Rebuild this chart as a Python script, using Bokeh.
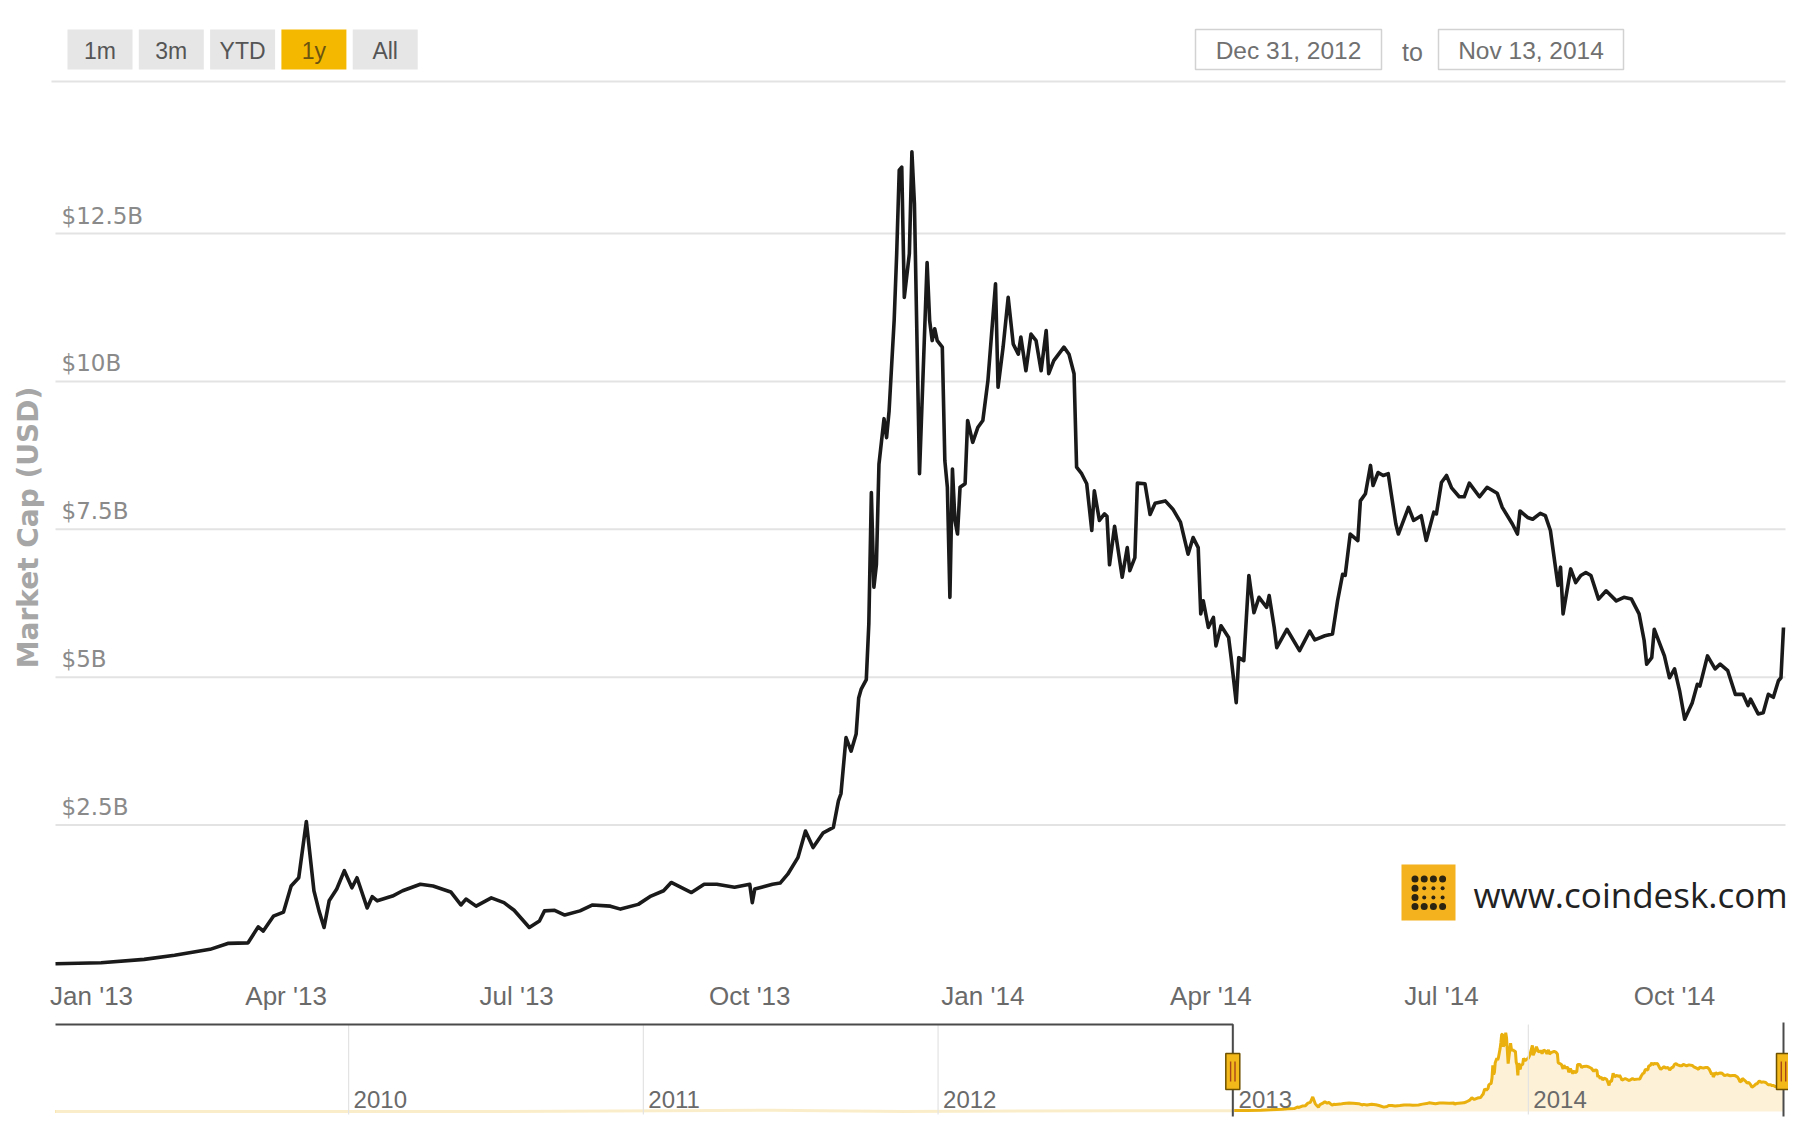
import math
import numpy as np
import pandas as pd
from bokeh.plotting import figure
from bokeh.models import Range1d
from bokeh.core.properties import value
from bokeh.embed import file_html
from bokeh.resources import INLINE

# ---------------- data ----------------
dates = [
"2012-12-31","2013-01-18","2013-02-04","2013-02-16","2013-03-02","2013-03-09","2013-03-17","2013-03-21","2013-03-23","2013-03-27","2013-03-31",
"2013-04-03","2013-04-06","2013-04-09","2013-04-12","2013-04-14","2013-04-16","2013-04-18","2013-04-21","2013-04-24","2013-04-27","2013-04-29",
"2013-05-03","2013-05-05","2013-05-07","2013-05-13","2013-05-17","2013-05-24","2013-05-29",
"2013-06-05","2013-06-09","2013-06-11","2013-06-15","2013-06-21","2013-06-26","2013-06-30",
"2013-07-06","2013-07-10","2013-07-12","2013-07-16","2013-07-20","2013-07-26","2013-07-31",
"2013-08-07","2013-08-11","2013-08-18","2013-08-23","2013-08-28","2013-08-31",
"2013-09-08","2013-09-13","2013-09-18","2013-09-25",
"2013-10-01","2013-10-02","2013-10-03","2013-10-10","2013-10-13","2013-10-16","2013-10-20","2013-10-23","2013-10-26","2013-10-30",
"2013-11-03","2013-11-05","2013-11-06","2013-11-08","2013-11-10","2013-11-12","2013-11-13","2013-11-14","2013-11-16","2013-11-17","2013-11-18",
"2013-11-19","2013-11-20","2013-11-21","2013-11-23","2013-11-24","2013-11-25","2013-11-27","2013-11-28","2013-11-29","2013-11-30",
"2013-12-01","2013-12-03","2013-12-04","2013-12-05","2013-12-07","2013-12-10","2013-12-11","2013-12-12","2013-12-13","2013-12-14","2013-12-16",
"2013-12-17","2013-12-18","2013-12-19","2013-12-20","2013-12-21","2013-12-22","2013-12-23","2013-12-25","2013-12-26","2013-12-28","2013-12-30",
"2014-01-01","2014-01-03","2014-01-06","2014-01-07","2014-01-09","2014-01-11","2014-01-13","2014-01-15","2014-01-16","2014-01-18","2014-01-20",
"2014-01-22","2014-01-24","2014-01-26","2014-01-27","2014-01-29",
"2014-02-02","2014-02-04","2014-02-06","2014-02-07","2014-02-09","2014-02-11","2014-02-13","2014-02-14","2014-02-16","2014-02-18","2014-02-19",
"2014-02-20","2014-02-22","2014-02-25","2014-02-27","2014-02-28",
"2014-03-02","2014-03-03","2014-03-06","2014-03-08","2014-03-10","2014-03-14","2014-03-17","2014-03-20","2014-03-23","2014-03-25","2014-03-27",
"2014-03-28","2014-03-29","2014-03-31",
"2014-04-02","2014-04-03","2014-04-05","2014-04-08","2014-04-09","2014-04-11","2014-04-12","2014-04-14","2014-04-16","2014-04-18","2014-04-20",
"2014-04-23","2014-04-24","2014-04-26","2014-04-27",
"2014-05-01","2014-05-06","2014-05-10","2014-05-12","2014-05-16","2014-05-19","2014-05-21","2014-05-23","2014-05-24","2014-05-26","2014-05-29","2014-05-30",
"2014-06-01","2014-06-03","2014-06-04","2014-06-06","2014-06-08","2014-06-10","2014-06-11","2014-06-13","2014-06-14","2014-06-18","2014-06-20",
"2014-06-23","2014-06-25","2014-06-28","2014-06-29",
"2014-07-01","2014-07-03","2014-07-05","2014-07-08","2014-07-10","2014-07-12","2014-07-16","2014-07-19","2014-07-23","2014-07-25","2014-07-29","2014-07-31",
"2014-08-01","2014-08-04","2014-08-06","2014-08-09","2014-08-11","2014-08-13","2014-08-15","2014-08-16","2014-08-17","2014-08-18","2014-08-21",
"2014-08-23","2014-08-25","2014-08-27","2014-08-29",
"2014-09-01","2014-09-04","2014-09-08","2014-09-11","2014-09-14","2014-09-17","2014-09-19","2014-09-20","2014-09-22","2014-09-23","2014-09-27","2014-09-29",
"2014-10-01","2014-10-03","2014-10-05","2014-10-08","2014-10-10","2014-10-11","2014-10-14","2014-10-17","2014-10-19","2014-10-22","2014-10-25",
"2014-10-28","2014-10-30","2014-10-31",
"2014-11-03","2014-11-05","2014-11-07","2014-11-09","2014-11-11","2014-11-12","2014-11-13",
]
cap_bn = [
0.157,0.174,0.23,0.30,0.40,0.50,0.51,0.78,0.71,0.96,1.03,
1.47,1.61,2.56,1.39,1.05,0.77,1.22,1.42,1.73,1.44,1.61,
1.10,1.29,1.22,1.30,1.39,1.50,1.47,
1.37,1.15,1.25,1.13,1.27,1.19,1.06,
0.77,0.88,1.05,1.06,0.98,1.05,1.15,
1.13,1.08,1.16,1.30,1.39,1.53,
1.36,1.50,1.50,1.45,
1.50,1.19,1.42,1.50,1.52,1.67,1.95,2.40,2.12,2.37,
2.46,2.91,3.03,3.98,3.75,4.04,4.65,4.80,4.96,5.90,8.12,
6.52,6.91,8.60,9.37,9.05,9.50,11.03,12.16,13.57,13.62,
11.42,12.16,13.88,13.00,8.44,12.01,11.03,10.69,10.89,10.69,10.58,
8.66,8.21,6.35,8.52,7.65,7.42,8.21,8.27,9.34,8.97,9.22,
9.34,10.01,11.65,9.90,10.58,11.42,10.63,10.46,10.75,10.18,10.80,
10.69,10.18,10.86,10.13,10.35,
10.58,10.46,10.13,8.55,8.44,8.27,7.48,8.15,7.65,7.76,7.72,
6.90,7.55,6.69,7.19,6.80,
7.02,8.28,8.27,7.75,7.94,7.98,7.84,7.62,7.08,7.36,7.19,
6.07,6.29,5.84,
6.01,5.53,5.87,5.67,5.33,4.57,5.33,5.28,6.72,6.09,6.35,
6.18,6.38,5.84,5.50,
5.81,5.45,5.78,5.63,5.70,5.73,6.29,6.74,6.72,7.42,7.31,7.98,
8.10,8.58,8.24,8.46,8.41,8.44,8.15,7.59,7.42,7.87,7.65,
7.73,7.31,7.79,7.76,
8.29,8.41,8.20,8.05,8.05,8.28,8.05,8.21,8.11,7.87,7.59,7.42,
7.81,7.70,7.67,7.77,7.73,7.48,6.86,6.55,6.86,6.07,6.83,
6.60,6.72,6.77,6.72,
6.32,6.46,6.29,6.35,6.32,6.07,5.62,5.22,5.33,5.81,5.36,4.99,
5.14,4.77,4.29,4.57,4.88,4.85,5.36,5.14,5.22,5.11,4.71,
4.71,4.52,4.63,
4.38,4.40,4.71,4.66,4.94,4.99,5.84,
]
assert len(dates) == len(cap_bn), (len(dates), len(cap_bn))

# earlier history only visible in the navigator (near zero at this scale)
hist_dates = ["2009-01-03", "2010-07-17", "2011-06-08", "2011-11-18", "2012-08-16", "2012-12-30"]
hist_cap_bn = [0.0, 0.0003, 0.21, 0.02, 0.13, 0.15]

y_ticks = [2.5, 5.0, 7.5, 10.0, 12.5]
y_tick_labels = ["$2.5B", "$5B", "$7.5B", "$10B", "$12.5B"]
x_ticks = ["2013-01-01", "2013-04-01", "2013-07-01", "2013-10-01",
           "2014-01-01", "2014-04-01", "2014-07-01", "2014-10-01"]
x_tick_labels = ["Jan '13", "Apr '13", "Jul '13", "Oct '13",
                 "Jan '14", "Apr '14", "Jul '14", "Oct '14"]
nav_ticks = ["2010-01-01", "2011-01-01", "2012-01-01", "2013-01-01", "2014-01-01"]
nav_tick_labels = ["2010", "2011", "2012", "2013", "2014"]
buttons = ["1m", "3m", "YTD", "1y", "All"]
selected_button = "1y"
range_from = "Dec 31, 2012"
range_to = "Nov 13, 2014"
y_title = "Market Cap (USD)"
brand = "www.coindesk.com"

# ---------------- layout (canvas pixels) ----------------
W, H = 1788, 1130
PL, PR = 55, 1783          # plot left / right
Y0, PPU = 972.5, 59.16     # pixel of $0 and pixels per $1B (main)
TOP_LINE = 81
NAV_Y0, NAV_PPU = 1111.0, 5.68
NAV_TOP, NAV_BOT = 1024, 1114


def to_ms(seq):
    return pd.to_datetime(pd.Series(seq)).values.astype("datetime64[ms]").astype("int64")


x_ms = to_ms(dates)
hist_ms = to_ms(hist_dates)
t0, t1 = float(x_ms[0]), float(x_ms[-1])
mpp = (t1 - t0) / (PR - PL)
n0 = float(hist_ms[0])
nmpp = (t1 - n0) / (PR - PL)

p = figure(width=W, height=H,
           x_range=Range1d(t0 - PL * mpp, t0 + (W - PL) * mpp),
           y_range=Range1d(-(H - Y0) / PPU, Y0 / PPU),
           x_axis_location=None, y_axis_location=None,
           toolbar_location=None, output_backend="svg",
           min_border=0, outline_line_color=None, background_fill_color="white")
p.grid.visible = False
p.extra_x_ranges = {"nav": Range1d(n0 - PL * nmpp, n0 + (W - PL) * nmpp),
                    "px": Range1d(0, W)}
p.extra_y_ranges = {"nav": Range1d(-(H - NAV_Y0) / NAV_PPU, NAV_Y0 / NAV_PPU),
                    "px": Range1d(H, 0)}

GRID = "#e3e3e3"
LBL = "#8a8a8a"
AX = "#6a6a6a"

# ---- top separator & main gridlines & y labels ----
p.segment(x0=[PL - 4], x1=[PR + 2], y0=[TOP_LINE], y1=[TOP_LINE], x_range_name="px",
          y_range_name="px", line_color=GRID, line_width=2)
p.segment(x0=[PL] * len(y_ticks), x1=[PR + 2] * len(y_ticks), y0=y_ticks, y1=y_ticks,
          x_range_name="px", line_color=GRID, line_width=2)
p.text(x=[PL + 6] * len(y_ticks), y=y_ticks, text=y_tick_labels, x_range_name="px",
       text_font=value("DejaVu Sans"), text_font_size="23px", text_color=LBL,
       text_align="left", text_baseline="bottom", y_offset=-5)

# ---- y axis title ----
p.text(x=[28], y=[527], text=[y_title], x_range_name="px", y_range_name="px",
       angle=math.pi / 2, text_font=value("DejaVu Sans"), text_font_style="bold",
       text_font_size="28px", text_color="#a6a6a6", text_align="center",
       text_baseline="middle")

# ---- main series ----
p.line(x=x_ms, y=cap_bn, line_color="#1a1a1a", line_width=3.6, line_join="round")

# ---- x tick labels ----
xt = to_ms(x_ticks)
p.text(x=xt[1:], y=[995] * (len(xt) - 1), text=x_tick_labels[1:], y_range_name="px",
       text_font=value("Liberation Sans"), text_font_size="26px", text_color=AX,
       text_align="center", text_baseline="middle")
p.text(x=xt[:1], y=[995], text=x_tick_labels[:1], y_range_name="px", x_offset=-8,
       text_font=value("Liberation Sans"), text_font_size="26px", text_color=AX,
       text_align="left", text_baseline="middle")

# ---- navigator ----
nav_x = np.concatenate([hist_ms, x_ms])
nav_y = list(hist_cap_bn) + list(cap_bn)
nt = to_ms(nav_ticks)
h_left, h_right = t0, t1
p.varea(x=nav_x, y1=np.zeros(len(nav_x)), y2=nav_y, x_range_name="nav", y_range_name="nav",
        fill_color="#fdf0d4", fill_alpha=0.9)
p.line(x=nav_x, y=nav_y, x_range_name="nav", y_range_name="nav",
       line_color="#e9b00e", line_width=3)
# faded (unselected) part of the navigator
p.quad(left=[n0], right=[h_left], top=[NAV_TOP], bottom=[NAV_BOT], x_range_name="nav",
       y_range_name="px", fill_color="white", fill_alpha=0.78, line_color=None)
p.segment(x0=nt, x1=nt, y0=[NAV_TOP] * len(nt), y1=[NAV_BOT] * len(nt),
          x_range_name="nav", y_range_name="px", line_color="#e3e3e3", line_width=1.2)
p.text(x=nt, y=[1099] * len(nt), text=nav_tick_labels, x_range_name="nav", y_range_name="px",
       x_offset=5, text_font=value("Liberation Sans"), text_font_size="24px",
       text_color=AX, text_align="left", text_baseline="middle")

# outline: top line up to left handle, verticals at the handles
p.line(x=[n0, h_left, h_left], y=[NAV_TOP, NAV_TOP, NAV_BOT + 2], x_range_name="nav",
       y_range_name="px", line_color="#4a4a4a", line_width=2)
p.segment(x0=[h_right], x1=[h_right], y0=[NAV_TOP - 2], y1=[NAV_BOT + 2], x_range_name="nav",
          y_range_name="px", line_color="#4a4a4a", line_width=2)
hx = [h_left, h_right]
p.rect(x=hx, y=[1071, 1071], width=14, height=36, width_units="screen",
       height_units="screen", x_range_name="nav", y_range_name="px",
       fill_color="#f3b81a", line_color="#6e5200", line_width=1.5)
for dx in (-2.2, 2.2):
    xs = [h + dx * nmpp for h in hx]
    p.segment(x0=xs, x1=xs, y0=[1061, 1061], y1=[1081, 1081], x_range_name="nav",
              y_range_name="px", line_color="#a8461a", line_width=1.4)

# ---- range selector buttons ----
bx = [67 + 71.3 * i for i in range(len(buttons))]
p.quad(left=bx, right=[b + 65 for b in bx], top=[29] * len(bx), bottom=[69] * len(bx),
       x_range_name="px", y_range_name="px",
       fill_color=["#f5b800" if b == selected_button else "#e6e6e6" for b in buttons],
       line_color=None)
p.text(x=[b + 32.5 for b in bx], y=[50] * len(bx), text=buttons, x_range_name="px",
       y_range_name="px", text_font=value("Liberation Sans"), text_font_size="23px",
       text_color=["#6b5410" if b == selected_button else "#555555" for b in buttons],
       text_align="center", text_baseline="middle")

# ---- date range inputs ----
p.quad(left=[1195, 1438], right=[1381, 1623], top=[29, 29], bottom=[69, 69],
       x_range_name="px", y_range_name="px", fill_color="white",
       line_color="#d2d2d2", line_width=1.5)
p.text(x=[1288, 1530.5], y=[50, 50], text=[range_from, range_to], x_range_name="px",
       y_range_name="px", text_font=value("Liberation Sans"), text_font_size="24.5px",
       text_color="#707070", text_align="center", text_baseline="middle")
p.text(x=[1412], y=[51], text=["to"], x_range_name="px", y_range_name="px",
       text_font=value("Liberation Sans"), text_font_size="25px", text_color="#707070",
       text_align="center", text_baseline="middle")

# ---- coindesk logo ----
p.quad(left=[1401], right=[1455], top=[864], bottom=[920], x_range_name="px",
       y_range_name="px", fill_color="#f4b21f", line_color=None)
dots_x, dots_y, dots_s = [], [], []
for r in range(4):
    for c in range(4):
        dots_x.append(1414.5 + 9.2 * c)
        dots_y.append(878.5 + 9.2 * r)
        dots_s.append(7 if (r in (0, 3) or c == 0) else 4)
p.scatter(x=dots_x, y=dots_y, size=dots_s, x_range_name="px", y_range_name="px",
          marker="circle", fill_color="#2b2410", line_color=None)
p.text(x=[1473], y=[894], text=[brand], x_range_name="px", y_range_name="px",
       text_font=value("Open Sans"), text_font_size="35px", text_color="#222222",
       text_align="left", text_baseline="middle")

open("out.html", "w").write(file_html(p, INLINE))
